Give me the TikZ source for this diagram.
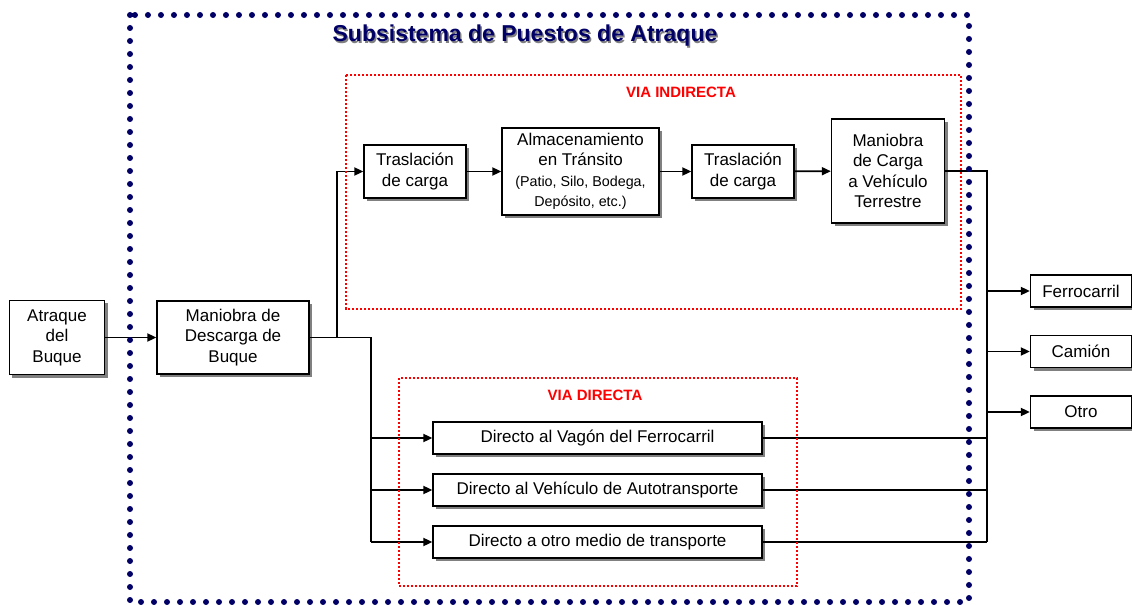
\documentclass[tikz,border=0pt]{standalone}
\usepackage{fontspec}
\setmainfont{Liberation Sans}
\usetikzlibrary{arrows.meta,shadows}
\definecolor{navy}{RGB}{0,0,102}
\definecolor{shadowgray}{RGB}{128,128,128}
\newcommand\boxfont{\fontsize{17bp}{20.5bp}\selectfont}
\newcommand\smallboxfont{\fontsize{14.3bp}{18bp}\selectfont}
\tikzset{
  procbox/.style={draw=black, line width=1.3bp, fill=white, align=center, inner sep=0pt,
    font=\boxfont,
    drop shadow={shadow xshift=3bp, shadow yshift=-3bp, fill=shadowgray, opacity=1}},
  conn/.style={line width=1.8bp, black},
  tri/.style={-{Triangle[length=9bp,width=8bp]}},
  outerframe/.style={navy, line width=6bp, line cap=round, dash pattern=on 0bp off 13bp},
  redframe/.style={red, line width=2.5bp, dash pattern=on 2.2bp off 1.8bp},
  redlabel/.style={red, font=\bfseries\fontsize{15bp}{18bp}\selectfont, inner sep=0pt}
}
\begin{document}
\begin{tikzpicture}[x=1bp,y=-1bp]
\useasboundingbox (0,0) rectangle (1132,605);

% boxes
\node[procbox, minimum width=95bp, minimum height=74bp] (atr) at (57,337.5) {Atraque\\del\\Buque};
\node[procbox, minimum width=152bp, minimum height=73bp] (mdes) at (233,337.5) {Maniobra de\\Descarga de\\Buque};
\node[procbox, minimum width=102bp, minimum height=53bp] (tr1) at (415,171.5) {Traslación\\de carga};
\node[procbox, minimum width=157bp, minimum height=87bp] (alm) at (580.5,171.5) {Almacenamiento\\en Tránsito\\{\smallboxfont (Patio, Silo, Bodega,}\\{\smallboxfont Depósito, etc.)}};
\node[procbox, minimum width=102bp, minimum height=53bp] (tr2) at (743,171.5) {Traslación\\de carga};
\node[procbox, minimum width=113bp, minimum height=104bp] (mcar) at (888,171) {Maniobra\\de Carga\\a Vehículo\\Terrestre};
\node[procbox, minimum width=101bp, minimum height=32bp] (fer) at (1081,291) {Ferrocarril};
\node[procbox, minimum width=101bp, minimum height=32bp] (cam) at (1081,351.5) {Camión};
\node[procbox, minimum width=101bp, minimum height=32bp] (otr) at (1081,412) {Otro};
\node[procbox, minimum width=329bp, minimum height=32bp] (d1) at (597.5,438) {Directo al Vagón del Ferrocarril};
\node[procbox, minimum width=329bp, minimum height=32bp] (d2) at (597.5,490) {Directo al Vehículo de Autotransporte};
\node[procbox, minimum width=329bp, minimum height=32bp] (d3) at (597.5,542) {Directo a otro medio de transporte};

% junction points
\coordinate (s1) at (337,337.5);
\coordinate (s2) at (371,337.5);
\coordinate (bus) at (987,171);

% connectors
\draw[conn,tri] (atr) -- (mdes);
\draw[conn] (mdes.east) -- (s2) -- (s2 |- d3.west);
\draw[conn,tri] (s1) |- (tr1.west);
\draw[conn,tri] (s2 |- d1.west) -- (d1.west);
\draw[conn,tri] (s2 |- d2.west) -- (d2.west);
\draw[conn,tri] (s2 |- d3.west) -- (d3.west);
\draw[conn,tri] (tr1) -- (alm);
\draw[conn,tri] (alm) -- (tr2);
\draw[conn,tri] (tr2) -- (mcar);
\draw[conn] (mcar.east) -- (bus) -- (bus |- d3.east);
\draw[conn] (d1.east) -- (bus |- d1.east);
\draw[conn] (d2.east) -- (bus |- d2.east);
\draw[conn] (d3.east) -- (bus |- d3.east);
\draw[conn,tri] (bus |- fer.west) -- (fer.west);
\draw[conn,tri] (bus |- cam.west) -- (cam.west);
\draw[conn,tri] (bus |- otr.west) -- (otr.west);

% frames
\draw[redframe] (346,75) rectangle (961,309);
\draw[redframe] (399,378) rectangle (797,586);
\draw[outerframe] (130,15) rectangle (969,602);

% labels
\node[redlabel] (lind) at (681,92) {VIA INDIRECTA};
\node[redlabel] (ldir) at (595,395) {VIA DIRECTA};
\node[shadowgray, font=\bfseries\fontsize{23bp}{26bp}\selectfont, inner sep=0pt] (tshadow) at (526.5,37.5) {Subsistema de Puestos de Atraque};
\node[navy, font=\bfseries\fontsize{23bp}{26bp}\selectfont, inner sep=0pt] (title) at (525,36) {Subsistema de Puestos de Atraque};
\end{tikzpicture}
\end{document}
